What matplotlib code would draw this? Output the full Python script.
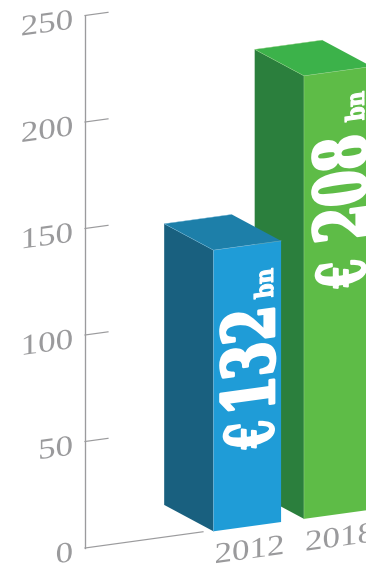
import matplotlib
matplotlib.use("Agg")
import matplotlib.pyplot as plt
from matplotlib.patches import Polygon
from matplotlib.patheffects import AbstractPathEffect
from matplotlib.transforms import Affine2D

# Chart data
years = ["2012", "2018"]
values = [132, 208]
value_signs = ["€", "€"]
value_numbers = ["132", "208"]
unit_label = "bn"
y_ticks = [0, 50, 100, 150, 200, 250]

# Oblique projection: origin, pixels per value unit, floor slope, depth vector
ORIGIN = (85.0, 548.0)
PX_PER_UNIT = 2.13
SLOPE = 0.1376
DEPTH = (-49.3, -26.4)
BAR_U = [127.0, 217.5]
BAR_WIDTH = 67.6
FRONT_D = -0.03

FRONT = ["#1f9cd7", "#5ebc47"]
SIDE = ["#19607f", "#2b7f3d"]
TOP = ["#1d7fa9", "#3cb24a"]
EDGE = ["#6fb4d6", "#8fcf80"]
AXIS = "#9b9b9d"
INK = "#9a9a9c"


def project(u, d, v):
    """Screen position of a point u along the floor, d deep and at value v."""
    return (ORIGIN[0] + u + d * DEPTH[0],
            ORIGIN[1] - u * SLOPE + d * DEPTH[1] - v * PX_PER_UNIT)


class PlaneText(AbstractPathEffect):
    """Maps glyph outlines onto a face of the oblique projection, optionally thickened."""

    def __init__(self, axes, anchor, a, b, c, d, stroke=0.0):
        super().__init__()
        self.axes, self.anchor = axes, anchor
        self.m = Affine2D.from_values(a, b, c, d, 0, 0)
        self.stroke = stroke

    def draw_path(self, renderer, gc, tpath, affine, rgbFace=None):
        px, py = self.axes.transData.transform(self.anchor)
        t = affine + Affine2D().translate(-px, -py) + self.m + Affine2D().translate(px, py)
        gc0 = renderer.new_gc()
        gc0.copy_properties(gc)
        if self.stroke:
            gc0.set_linewidth(self.stroke)
            gc0.set_foreground(rgbFace)
        renderer.draw_path(gc0, tpath, t, rgbFace)
        gc0.restore()


def wall_text(ax, x, y, s, size, stretch, ha):
    ax.text(x, y, s, fontsize=size, color=INK, family="Liberation Serif", ha=ha, va="baseline",
            path_effects=[PlaneText(ax, (x, y), stretch, stretch * SLOPE, 0, 1)], zorder=5)


def face_text(ax, x, y, s, size, cross, stroke):
    # Rotated text reading upward; its glyph height is widened across the face.
    ax.text(x, y, s, fontsize=size, color="white", family="DejaVu Serif", weight="bold",
            ha="left", va="baseline", rotation=90, rotation_mode="anchor",
            path_effects=[PlaneText(ax, (x, y), cross, cross * SLOPE, 0, 1, stroke)], zorder=6)


fig = plt.figure(figsize=(3.66, 5.64), dpi=100, facecolor="white")
ax = fig.add_axes([0, 0, 1, 1])
ax.set_xlim(0, 366)
ax.set_ylim(564, 0)
ax.axis("off")

# Axis line, ticks and tick labels
ax.plot(*zip(project(0, 0, 0), project(0, 0, y_ticks[-1])), color=AXIS, lw=0.95, zorder=1)
ax.plot(*zip(project(0, 0, 0), project(118, 0, 0)), color=AXIS, lw=0.85, zorder=1)
for t in y_ticks:
    x0, y0 = project(0, 0, t)
    if t:
        ax.plot(*zip((x0, y0), project(23, 0, t)), color=AXIS, lw=0.85, zorder=1)
    wall_text(ax, x0 - 12, y0 + 13, str(t), 21, 1.2, "right")

# Bars, back to front
for i in (1, 0):
    u0, u1, v = BAR_U[i], BAR_U[i] + BAR_WIDTH, values[i]
    d0, d1 = FRONT_D, FRONT_D + 1
    side = [project(u0, d1, 0), project(u0, d0, 0), project(u0, d0, v), project(u0, d1, v)]
    front = [project(u0, d0, 0), project(u1, d0, 0), project(u1, d0, v), project(u0, d0, v)]
    top = [project(u0, d0, v), project(u1, d0, v), project(u1, d1, v), project(u0, d1, v)]
    ax.add_patch(Polygon(side, closed=True, fc=SIDE[i], ec="none", zorder=2 + (1 - i)))
    ax.add_patch(Polygon(front, closed=True, fc=FRONT[i], ec="none", zorder=2 + (1 - i)))
    ax.add_patch(Polygon(top, closed=True, fc=TOP[i], ec="none", zorder=2 + (1 - i)))
    ax.plot(*zip(project(u0, d0, 0), project(u0, d0, v), project(u1, d0, v)),
            color=EDGE[i], lw=0.4, zorder=3 + (1 - i))
    ax.plot(*zip(project(u0, d0, v), project(u0, d1, v), project(u1, d1, v)),
            color=EDGE[i], lw=0.3, zorder=3 + (1 - i))

# Year labels under the front faces
for u, year in zip(BAR_U, years):
    fx, fy = project(u, FRONT_D, 0)
    wall_text(ax, fx + 1, fy + 32, year, 21, 1.2, "left")

# Values printed up the front faces: currency sign, number, unit
sign_pos = [(273, 445), (365, 284)]
number_pos = [(274, 410), (366, 238)]
unit_pos = [(273, 297), (364, 120)]
for sign, number, sp, np_, up in zip(value_signs, value_numbers, sign_pos, number_pos, unit_pos):
    face_text(ax, sp[0], sp[1], sign, 27.8, 1.72, 1.5)
    face_text(ax, np_[0], np_[1], number, 36.5, 1.42, 2.0)
    face_text(ax, up[0], up[1], unit_label, 14.8, 1.22, 0.8)

fig.savefig("out.png", dpi=100, facecolor="white")
